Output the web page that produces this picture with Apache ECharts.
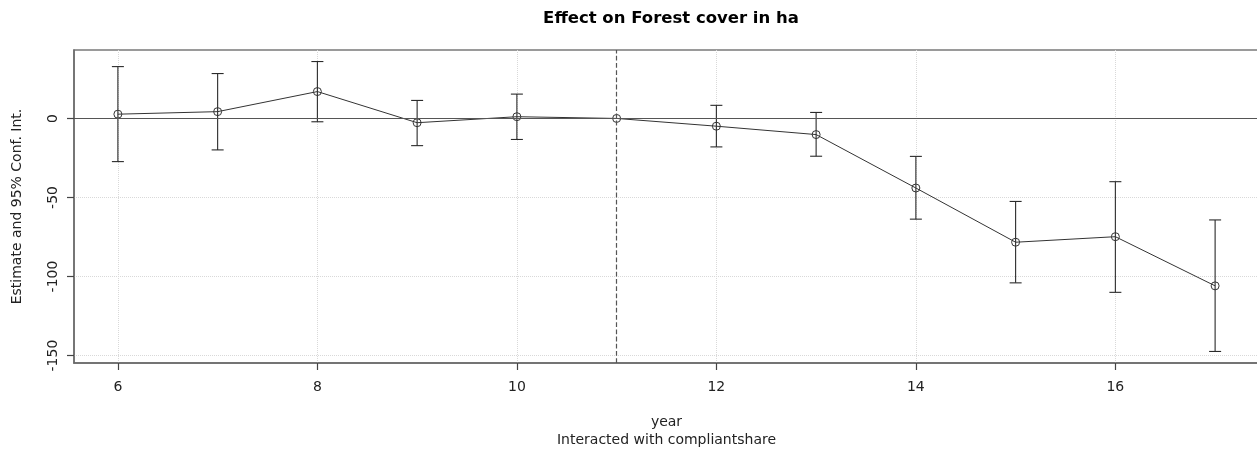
<!DOCTYPE html>
<html>
<head>
<meta charset="utf-8">
<script src="https://cdn.jsdelivr.net/npm/echarts@6/dist/echarts.min.js"></script>
<style>
  html, body { margin: 0; padding: 0; background: #fff; }
  #effect-chart { width: 1257px; height: 452px; }
</style>
</head>
<body>
<div id="effect-chart"></div>
<script>
// values
var years = [6, 7, 8, 9, 10, 11, 12, 13, 14, 15, 16, 17]
var estimate = [2.7, 4.3, 17, -2.7, 1.1, 0, -4.9, -10.2, -44, -78.3, -74.8, -105.9]
var ciLower = [-27.3, -19.9, -2.1, -17.2, -13.3, 0, -18, -23.9, -63.7, -104, -110, -147.4]
var ciUpper = [32.8, 28.4, 36, 11.4, 15.4, 0, 8.3, 3.8, -24, -52.5, -40, -64.2]
var xTicks = [6, 8, 10, 12, 14, 16]
var yTicks = [-150, -100, -50, 0]
var refYear = 11

var chart = echarts.init(document.getElementById('effect-chart'))
var font = 'DejaVu Sans'

var pointData = []
var barData = []
for (var i in years) {
  pointData.push([years[i], estimate[i]])
  barData.push([years[i], ciLower[i], ciUpper[i]])
}

var option = {
  animation: false,
  textStyle: { fontFamily: font },
  title: {
    text: 'Effect on Forest cover in ha',
    left: 666,
    textAlign: 'center',
    top: 5,
    textStyle: { fontFamily: font, fontSize: 16.5, fontWeight: 'bold', color: '#000' }
  },
  grid: {
    left: 74, right: -2, top: 50, bottom: 89,
    containLabel: false,
    outerBoundsMode: 'none',
    show: true, borderColor: '#7a7a7a', borderWidth: 1.5
  },
  xAxis: {
    type: 'value',
    min: 5.56,
    max: 17.44,
    name: 'year\nInteracted with compliantshare',
    nameLocation: 'middle',
    nameGap: 50,
    nameTextStyle: { fontFamily: font, fontSize: 14, color: '#222', lineHeight: 18 },
    axisLine: { show: true, onZero: false, lineStyle: { color: '#6a6a6a', width: 1.5 } },
    axisTick: { show: true, customValues: xTicks, length: 7, lineStyle: { color: '#444', width: 1.2 } },
    axisLabel: { customValues: xTicks, fontSize: 14, color: '#222', margin: 17 },
    splitLine: { show: true, lineStyle: { color: '#d9d9d9', type: 'dotted' } }
  },
  yAxis: {
    type: 'value',
    min: -154.7,
    max: 43.3,
    name: 'Estimate and 95% Conf. Int.',
    nameLocation: 'middle',
    nameGap: 50,
    nameRotate: 90,
    nameTextStyle: { fontFamily: font, fontSize: 14, color: '#222' },
    axisLine: { show: true, onZero: false, lineStyle: { color: '#6a6a6a', width: 1.5 } },
    axisTick: { show: true, customValues: yTicks, length: 7, lineStyle: { color: '#444', width: 1.2 } },
    axisLabel: { customValues: yTicks, fontSize: 14, color: '#222', rotate: 90, margin: 14 },
    splitLine: { show: true, lineStyle: { color: '#d9d9d9', type: 'dotted' } }
  },
  series: [
    {
      type: 'custom',
      renderItem: function (params, api) {
        var x = api.value(0)
        var lo = api.value(1)
        var hi = api.value(2)
        if (lo === hi) return
        var top = api.coord([x, hi])
        var bot = api.coord([x, lo])
        var w = 6
        var style = { stroke: '#2a2a2a', lineWidth: 1.1 }
        return {
          type: 'group',
          children: [
            { type: 'line', shape: { x1: top[0], y1: top[1], x2: bot[0], y2: bot[1] }, style: style },
            { type: 'line', shape: { x1: top[0] - w, y1: top[1], x2: top[0] + w, y2: top[1] }, style: style },
            { type: 'line', shape: { x1: bot[0] - w, y1: bot[1], x2: bot[0] + w, y2: bot[1] }, style: style }
          ]
        }
      },
      encode: { x: 0, y: [1, 2] },
      data: barData,
      z: 3
    },
    {
      type: 'line',
      data: pointData,
      symbol: 'circle',
      symbolSize: 8,
      lineStyle: { color: '#333', width: 1 },
      itemStyle: { color: 'rgba(0,0,0,0)', borderColor: '#333', borderWidth: 1 },
      z: 4,
      markLine: {
        silent: true,
        symbol: 'none',
        label: { show: false },
        data: [
          { yAxis: 0, lineStyle: { color: '#555', type: 'solid', width: 1.2 } },
          { xAxis: refYear, lineStyle: { color: '#555', type: 'dashed', width: 1.2 } }
        ]
      }
    }
  ]
}

chart.setOption(option)
window.onresize = chart.resize
</script>
</body>
</html>
